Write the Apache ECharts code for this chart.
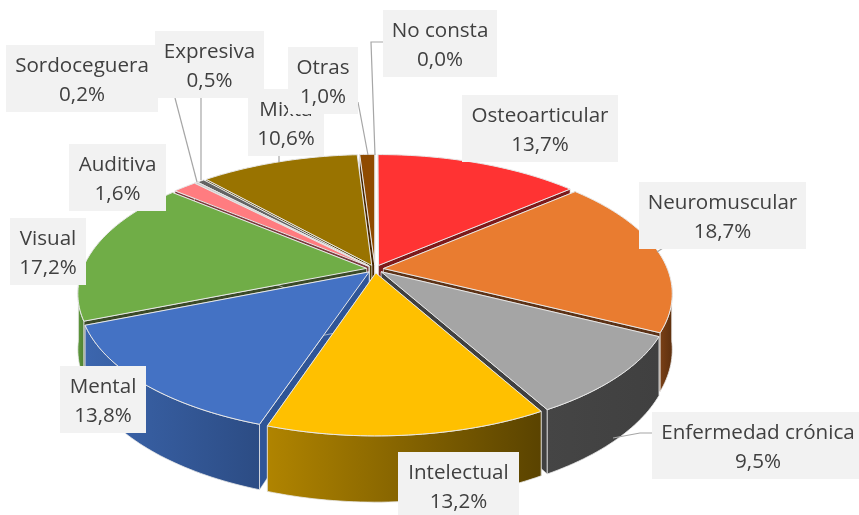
<!DOCTYPE html>
<html>
<head>
<meta charset="utf-8">
<style>html,body{margin:0;padding:0;background:#fff}#chart{width:859px;height:515px}</style>
<script src="https://cdn.jsdelivr.net/npm/echarts@6/dist/echarts.min.js"></script>
</head>
<body>
<div id="chart"></div>
<script>
// tipos de discapacidad, % del total
const categories = ['Osteoarticular', 'Neuromuscular', 'Enfermedad crónica', 'Intelectual', 'Mental', 'Visual', 'Auditiva', 'Sordoceguera', 'Expresiva', 'Mixta', 'Otras', 'No consta'];
const values = [13.7, 18.7, 9.5, 13.2, 13.8, 17.2, 1.6, 0.2, 0.5, 10.6, 1.0, 0.0];

const topColors = ['#ff3333', '#e97c30', '#a5a5a5', '#ffc000', '#4472c4', '#70ad47', '#ff7c80', '#c9c9c9', '#636363', '#997300', '#8f4b00', '#264478'];
const wallColors = [
  ['#8f1c1c', '#7a1818'], ['#7a4016', '#5c2f0e'], ['#454545', '#404040'], ['#b08400', '#5a4300'],
  ['#3c66ae', '#2c4c84'], ['#5f9a3c', '#4f7f33'], ['#a85054', '#8a4044'], ['#888888', '#777777'],
  ['#444444', '#3a3a3a'], ['#4f3c00', '#473600'], ['#5c3000', '#4a2700'], ['#1a2f55', '#1a2f55']
];
// caras radiales que se ven en las separaciones
const radialColors = ['#7d1a1a', '#5c3216', '#404040', '#7a5c00', '#2f5597', '#3a4a28', '#7a3a3c', '#777777', '#3a3a3a', '#4f3c00', '#4a2700', '#1a2f55'];

// proyeccion del disco (perspectiva)
const cx = 375, cy = 269, R = 284, H = 132, persp = 0.18, depth = 54, explode = 0.03;
// cajas de etiqueta [x0, y0, x1, y1]
const labelBoxes = [
  [462, 95, 618, 162], [639, 182, 806, 249], [652, 412, 864, 479], [398, 452, 519, 519],
  [60, 366, 146, 433], [10, 218, 86, 285], [69, 144, 166, 211], [6, 45, 158, 112],
  [155, 31, 264, 98], [248, 89, 324, 156], [288, 47, 358, 114], [383, 10, 497, 77]
];
const leaders = [
  [[663, 248], [657, 252]],
  [[652, 433], [640, 433], [613, 438]],
  [[175, 98], [197, 182]],
  [[201, 98], [201, 180]],
  [[279, 156], [279, 162]],
  [[358, 102], [368, 155]],
  [[383, 42], [371, 42], [375, 155]]
];

const total = values.reduce((a, b) => a + b, 0);
const slices = [];
let acc = 0;
values.forEach((v, i) => {
  const a0 = acc / total * Math.PI * 2;
  acc += v;
  slices.push({ i: i, a0: a0, a1: acc / total * Math.PI * 2 });
});

function project(a, r, mid, low) {
  const X = r * Math.sin(a) + explode * Math.sin(mid);
  const Z = r * Math.cos(a) + explode * Math.cos(mid);
  const f = 1 / (1 + persp * Z);
  return [cx + R * X * f, cy - H * Z * f + (low ? depth * f : 0)];
}

function arcAngles(s) {
  const out = [];
  const n = Math.max(2, Math.ceil((s.a1 - s.a0) / 0.02));
  for (let k = 0; k <= n; k++) out.push(s.a0 + (s.a1 - s.a0) * k / n);
  return out;
}

function wallFill(i) {
  return {
    type: 'linear', x: 0, y: 0, x2: 1, y2: 0,
    colorStops: [{ offset: 0, color: wallColors[i][0] }, { offset: 1, color: wallColors[i][1] }]
  };
}

// se pintan primero las porciones del fondo
const drawOrder = slices.filter(s => values[s.i] > 0)
  .sort((p, q) => Math.cos((q.a0 + q.a1) / 2) - Math.cos((p.a0 + p.a1) / 2));

function renderSlice(params) {
  const s = drawOrder[params.dataIndex];
  const mid = (s.a0 + s.a1) / 2;
  const edge = '#e8e8e8';
  const angles = arcAngles(s);
  const top = angles.map(a => project(a, 1, mid, false));
  const apexTop = project(0, 0, mid, false);
  const apexLow = project(0, 0, mid, true);
  const children = [];
  [s.a0, s.a1].forEach(a => {
    children.push({
      type: 'polygon',
      shape: { points: [apexTop, project(a, 1, mid, false), project(a, 1, mid, true), apexLow] },
      style: { fill: radialColors[s.i], stroke: edge, lineWidth: 0.6 }
    });
  });
  // la pared exterior solo se ve en la mitad delantera
  const front = angles.filter(a => Math.cos(a) < -0.12);
  if (front.length > 1) {
    const upper = front.map(a => project(a, 1, mid, false));
    const lower = front.map(a => project(a, 1, mid, true));
    children.push({
      type: 'polygon',
      shape: { points: upper.concat(lower.reverse()) },
      style: { fill: wallFill(s.i), stroke: edge, lineWidth: 0.8 }
    });
  }
  children.push({
    type: 'polygon',
    shape: { points: [apexTop].concat(top) },
    style: { fill: topColors[s.i], stroke: edge, lineWidth: 1 }
  });
  return { type: 'group', children: children };
}

function renderLabel(params) {
  const i = params.dataIndex;
  const b = labelBoxes[i];
  const txt = categories[i] + '\n' + values[i].toFixed(1).replace('.', ',') + '%';
  return {
    type: 'group',
    children: [
      { type: 'rect', shape: { x: b[0], y: b[1], width: b[2] - b[0], height: b[3] - b[1] }, style: { fill: '#f2f2f2' } },
      {
        type: 'text',
        style: {
          x: (b[0] + b[2]) / 2, y: (b[1] + b[3]) / 2 + 2, text: txt, align: 'center', verticalAlign: 'middle',
          fontFamily: '"Open Sans"', fontSize: 20.6, lineHeight: 29.5, fill: '#404040'
        }
      }
    ]
  };
}

function renderLeader(params) {
  return {
    type: 'polyline',
    shape: { points: leaders[params.dataIndex] },
    style: { fill: 'none', stroke: '#a6a6a6', lineWidth: 1.2 }
  };
}

const chart = echarts.init(document.getElementById('chart'));
chart.setOption({
  animation: false,
  backgroundColor: '#ffffff',
  series: [
    { type: 'custom', coordinateSystem: 'none', z: 2, silent: true, renderItem: renderSlice, data: drawOrder.map(s => values[s.i]) },
    { type: 'custom', coordinateSystem: 'none', z: 3, silent: true, renderItem: renderLeader, data: leaders.map((l, i) => i) },
    { type: 'custom', coordinateSystem: 'none', z: 4, silent: true, renderItem: renderLabel, data: values }
  ]
});
</script>
</body>
</html>
